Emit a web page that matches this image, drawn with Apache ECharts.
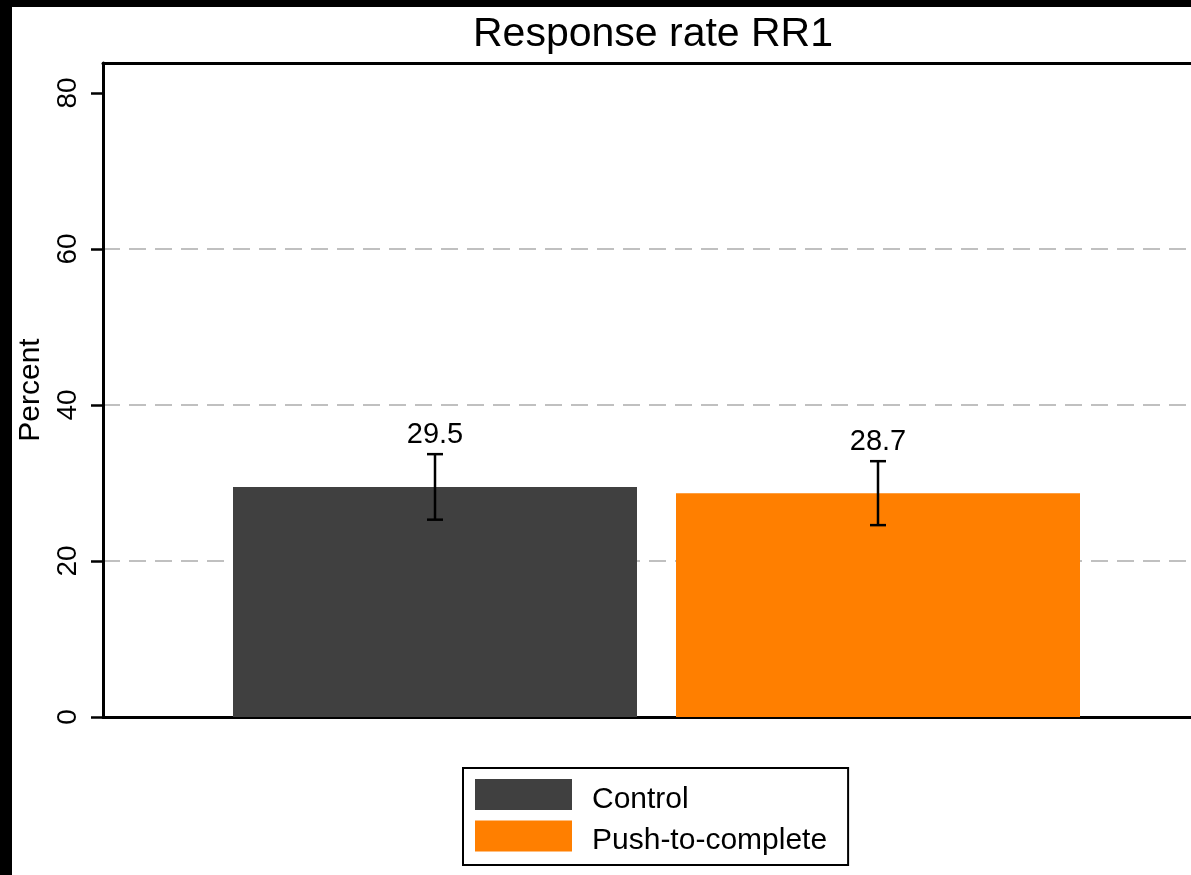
<!DOCTYPE html>
<html>
<head>
<meta charset="utf-8">
<script src="https://cdn.jsdelivr.net/npm/echarts@6/dist/echarts.min.js"></script>
<style>
html,body{margin:0;padding:0;background:#fff;}
#chart{width:1191px;height:875px;}
</style>
</head>
<body>
<div id="chart"></div>
<script>
// ---- data ----
const titleText = 'Response rate RR1';
const categories = ['Control', 'Push-to-complete'];
const rates = [29.5, 28.7];
const ciLow = [25.3, 24.6];
const ciHigh = [33.7, 32.8];
const yTicks = [0, 20, 40, 60, 80];
const yMax = 83.85;
const colors = ['#404040', '#ff7f00'];

const FONT = 'Liberation Sans, Arial, Helvetica, sans-serif';

const chart = echarts.init(document.getElementById('chart'), null, {renderer: 'canvas'});

const barSeries = categories.map((name, i) => ({
  type: 'bar',
  name: name,
  xAxisIndex: 2,
  yAxisIndex: 1,
  barWidth: 404,
  barGap: '-100%',
  itemStyle: {color: colors[i]},
  data: categories.map((c, j) => (j === i ? rates[j] : '-')),
  z: 3
}));

const errData = categories.map((c, i) => [i, ciLow[i], ciHigh[i], rates[i]]);

const option = {
  backgroundColor: '#fff',
  animation: false,
  textStyle: {fontFamily: FONT},
  title: {
    text: titleText,
    left: 648,
    top: 9,
    textAlign: 'center',
    textStyle: {fontFamily: FONT, fontSize: 41, fontWeight: 'normal', color: '#000'}
  },
  graphic: [
    {type: 'rect', left: 0, top: 0, shape: {width: 12, height: 875}, style: {fill: '#000'}, z: 100},
    {type: 'rect', left: 0, top: 0, shape: {width: 1191, height: 7}, style: {fill: '#000'}, z: 100}
  ],
  legend: {
    data: categories,
    orient: 'vertical',
    left: 463,
    top: 768,
    icon: 'rect',
    itemWidth: 97,
    itemHeight: 31,
    itemGap: 6,
    padding: [11, 21, 9, 12],
    borderColor: '#000',
    borderWidth: 2,
    selectedMode: false,
    formatter: name => '{t|' + name + '}',
    textStyle: {
      fontFamily: FONT, fontSize: 30, color: '#000',
      rich: {t: {fontFamily: FONT, fontSize: 30, color: '#000', padding: [10, 0, 0, 15]}}
    }
  },
  grid: [
    {left: 103, top: 63, width: 1106, bottom: 158, show: false, containLabel: false},
    {left: 213.5, top: 63, width: 886, bottom: 158, show: false, containLabel: false}
  ],
  xAxis: [
    {type: 'category', gridIndex: 0, position: 'bottom', data: [''], axisLine: {lineStyle: {color: '#000', width: 3}}, axisTick: {show: false}, axisLabel: {show: false}, splitLine: {show: false}},
    {type: 'category', gridIndex: 0, position: 'top', data: [''], axisLine: {lineStyle: {color: '#000', width: 3}}, axisTick: {show: false}, axisLabel: {show: false}, splitLine: {show: false}},
    {type: 'category', gridIndex: 1, data: categories, show: false}
  ],
  yAxis: [
    {
      type: 'value', gridIndex: 0, min: 0, max: yMax, interval: 20,
      name: 'Percent', nameLocation: 'middle', nameRotate: 90, nameGap: 56,
      nameTextStyle: {fontFamily: FONT, fontSize: 30, color: '#000'},
      axisLine: {show: true, lineStyle: {color: '#000', width: 3}},
      axisTick: {show: true, length: 12, customValues: yTicks, lineStyle: {color: '#000', width: 2.5}},
      axisLabel: {show: true, rotate: 90, margin: 21, customValues: yTicks, fontFamily: FONT, fontSize: 28, color: '#000', formatter: v => String(v)},
      splitLine: {show: true, lineStyle: {color: ['rgba(0,0,0,0)', '#c0c0c0', '#c0c0c0', '#c0c0c0', 'rgba(0,0,0,0)', 'rgba(0,0,0,0)'], width: 2, type: [17, 9]}}
    },
    {type: 'value', gridIndex: 1, min: 0, max: yMax, show: false, splitLine: {show: false}}
  ],
  series: barSeries.concat([{
    type: 'custom',
    name: 'ci',
    xAxisIndex: 2,
    yAxisIndex: 1,
    z: 10,
    data: errData,
    renderItem: function (params, api) {
      const lo = api.coord([api.value(0), api.value(1)]);
      const hi = api.coord([api.value(0), api.value(2)]);
      const cap = 8;
      const st = {stroke: '#000', lineWidth: 2.5};
      return {
        type: 'group',
        children: [
          {type: 'line', shape: {x1: lo[0], y1: lo[1], x2: hi[0], y2: hi[1]}, style: st},
          {type: 'line', shape: {x1: lo[0] - cap, y1: lo[1], x2: lo[0] + cap, y2: lo[1]}, style: st},
          {type: 'line', shape: {x1: hi[0] - cap, y1: hi[1], x2: hi[0] + cap, y2: hi[1]}, style: st},
          {type: 'text', x: hi[0], y: hi[1] - 5, style: {text: api.value(3).toFixed(1), textAlign: 'center', textVerticalAlign: 'bottom', fontFamily: FONT, fontSize: 29, fill: '#000'}}
        ]
      };
    }
  }])
};

chart.setOption(option);
</script>
</body>
</html>
